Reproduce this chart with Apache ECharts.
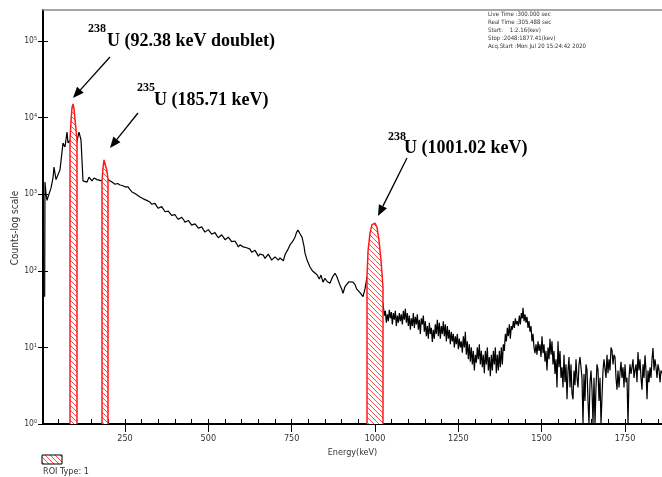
<!DOCTYPE html>
<html><head><meta charset="utf-8">
<script src="https://cdn.jsdelivr.net/npm/echarts@6/dist/echarts.min.js"></script>
<style>html,body{margin:0;padding:0;background:#fff}#c{width:662px;height:477px}</style>
</head><body><div id="c"></div>
<script>
// ---- data (energy keV, counts) ----
const spectrum = [
[9,46],[10,1440],[13,1000],[16,830],[19,920],[28,1200],[34,1630],[37,2260],[43,1550],[49,1630],[55,2090],[61,3550],[64,4660],[70,4130],[76,6460],[79,4660],[85,5100],[88,4000],[100,3500],[106,5000],
[112,6460],[118,5100],[124,1490],[130,1500],[136,1440],[142,1670],[151,1490],[157,1630],[166,1550],[172,1630],[181,1490],[190,1500],[199,1550],
[205,1500],[211,1440],[220,1350],[228,1380],[235,1320],[242,1300],[250,1250],[259,1250],[265,1150],[271,1070],[280,1020],[286,980],[295,920],
[300,950],[305,870],[310,820],[315,830],[320,850],[325,790],[330,740],[335,740],[340,760],[345,700],[350,655],[355,660],[360,690],[365,640],[370,590],[375,590],[380,600],[385,565],[390,530],[395,545],[400,540],[405,500],[410,470],[415,490],[420,500],[425,470],[430,430],[435,440],[440,455],[445,430],[450,395],[455,400],[460,410],[465,385],[470,360],[475,370],[480,375],[485,345],[490,320],[495,330],[500,345],[505,322],[510,300],[515,310],[520,315],[525,290],[530,270],[535,285],[540,295],[545,275],[550,255],[555,262],[560,275],[565,268],[570,240],[575,245],[580,245],[585,225],[590,205],[595,218],[600,225],[605,205],[610,195],[615,200],[620,205],[625,192],[630,175],[635,178],[640,185],[645,170],[650,155],[655,166],[660,170],[665,160],[670,145],[675,150],[680,165],[685,162],[690,138],[695,140],[700,152],[705,155],[710,138],[715,147],[720,150],[725,135],[730,162],[740,195],[745,218],[755,250],[760,275],[765,320],[769,340],[775,305],[781,275],[787,210],[790,170],[797,135],[805,112],[812,100],[818,95],[826,89],[833,78],[838,88],[844,71],[850,80],[857,72],[865,69],[872,82],[880,93],[885,85],[889,81],[895,65],[900,58],[904,51],[910,62],[916,61],[922,72],[928,68],[934,71],[940,66],[945,58],[949,61],[955,52],[960,49],[964,46],[970,58],[973,61],[976,83],
[1024,38],[1028,26],[1031,30],[1034,21],[1037,27],[1040,22],[1043,31],[1046,24],[1049,29],[1052,20],[1055,28],[1058,23],[1061,30],[1064,19],[1067,26],[1070,21],[1073,28],[1076,22],[1079,27],[1082,20],[1085,30],[1088,23],[1091,32],[1094,21],[1097,28],[1100,19],
[1103,26],[1106,17],[1109,24],[1112,19],[1115,28],[1118,18],[1121,25],[1124,20],[1127,27],[1130,17],[1133,23],[1136,15],[1139,24],[1142,20],[1145,26],[1148,16],[1151,22],[1154,14],[1157,19],[1160,13],[1163,21],[1166,15],[1169,18],[1172,11.8],[1175,17],[1178,13],[1181,20],[1184,15],[1187,23],[1190,14],[1193,21],[1196,13],[1199,19],
[1202,15],[1205,22],[1208,14],[1211,20],[1214,12],[1217,19],[1220,13],[1223,17],[1226,11],[1229,16],[1232,12],[1235,15],[1238,10],[1241,14],[1244,11],[1247,15],[1250,9.5],[1253,13],[1256,10],[1259,12],[1262,8.5],[1265,14],[1268,10],[1271,16],[1274,8],[1277,12],[1280,7],[1283,11],[1286,6.5],[1289,10],[1292,6],[1295,9],[1298,5],
[1301,8],[1304,6.3],[1307,10],[1310,7],[1313,11],[1316,6],[1319,9],[1322,5.5],[1325,8],[1328,4.6],[1331,9],[1334,6],[1337,10],[1340,5],[1343,7.5],[1346,4.2],[1349,8],[1352,5],[1355,9],[1358,6],[1361,10],[1364,4.6],[1367,8],[1370,5],[1373,9],[1376,5.5],[1379,10],[1382,6],[1385,11],[1388,9],[1391,15],[1394,12],[1397,18],
[1400,14],[1403,20],[1406,13],[1409,19],[1412,17],[1415,22],[1418,18],[1421,24],[1424,20],[1427,22],[1430,19],[1433,26],[1436,20],[1439,28],[1442,24],[1444,33],[1447,22],[1450,27],[1453,21],[1456,25],[1459,18],[1462,22],[1465,16],[1468,19],[1471,12],[1474,15],[1477,10],[1480,8.4],[1483,11],[1486,8],[1489,12],[1492,9],[1495,11],[1498,7.5],
[1501,14],[1504,8.4],[1507,11],[1510,6.5],[1513,9],[1516,5],[1519,10],[1522,7],[1525,13],[1528,8],[1531,12],[1534,6],[1537,9],[1540,4.5],[1543,7],[1546,3],[1549,12],[1552,5.5],[1555,9],[1558,4],[1561,5.5],[1564,3],[1567,8],[1570,3.5],[1573,6],[1576,2.1],[1579,5],[1582,7.5],[1585,3],[1588,6],[1591,2.5],[1594,2.1],[1597,5],
[1600,3.2],[1603,7],[1606,4],[1609,3],[1612,6],[1615,7.5],[1618,7.5],[1621,4],[1624,1],[1627,4.5],[1630,2],[1633,6],[1636,5.1],[1639,2],[1642,1],[1645,3.5],[1648,5],[1651,2.8],[1654,1],[1657,4],[1660,1],[1663,3],[1666,6],[1669,5.1],[1672,2],[1675,4],[1678,1],[1681,1],[1684,5],[1687,7],[1690,6.8],[1693,4],[1696,8],[1699,4.6],
[1702,7],[1705,5],[1708,10],[1711,9.2],[1714,6],[1717,8],[1720,7.5],[1723,4],[1726,2.8],[1729,5],[1732,3],[1735,4.6],[1738,6.5],[1741,4],[1744,5.5],[1747,3],[1750,6],[1753,3.5],[1756,4],[1759,1],[1762,4],[1765,6],[1768,4.5],[1771,5.5],[1774,7],[1777,4],[1780,5.1],[1783,6],[1786,3.5],[1789,8.7],[1792,5],[1795,7],[1798,4],
[1801,2.8],[1804,6],[1807,4],[1810,7.9],[1813,5],[1816,2.1],[1819,5],[1822,3.5],[1825,5.5],[1828,4],[1831,7],[1834,9.8],[1837,5],[1840,7],[1843,5.5],[1846,4],[1849,6],[1852,5.1],[1855,3.5],[1858,5],[1861,4.6]
];
const roi92 = [[85,1],[85,5100],[88,9000],[91,13500],[94,15100],[97,13000],[100,9500],[103,7000],[106,5000],[106,1]];
const roi186 = [[181,1],[181,1500],[184,2200],[187,2800],[190,2960],[193,2700],[196,2000],[199,1550],[199,1]];
const roi1001 = [[976,1],[976,83],[979,180],[985,310],[991,400],[1000,420],[1006,370],[1012,250],[1018,138],[1024,61],[1024,1]];

const energyLabels = [250,500,750,1000,1250,1500,1750];
const countTicks = [1,10,100,1000,10000,100000];
const infoLines = ['Live Time :300.000 sec','Real Time :305.488 sec','Start:    1:2.16(kev)','Stop :2048:1877.41(kev)','Acq.Start :Mon Jul 20 15:24:42 2020'];
const peakLabels = [
  {iso:'238', text:'U (92.38 keV doublet)'},
  {iso:'235', text:'U (185.71 keV)'},
  {iso:'238', text:'U (1001.02 keV)'}
];
const yAxisTitle = 'Counts-log scale';

// ---- presentation ----
const minorEnergyTicks = [];
for (let e = 50; e <= 1850; e += 50) minorEnergyTicks.push(e);
const sup = {0:'\u2070',1:'\u00b9',2:'\u00b2',3:'\u00b3',4:'\u2074',5:'\u2075'};
const condensed = '"DejaVu Sans Condensed","Liberation Sans Narrow","DejaVu Sans",sans-serif';

function hatch() {
  const s = 5, c = document.createElement('canvas');
  c.width = s; c.height = s;
  const g = c.getContext('2d');
  g.fillStyle = '#fff'; g.fillRect(0,0,s,s);
  g.strokeStyle = '#ff5050'; g.lineWidth = 1;
  g.beginPath();
  for (const o of [-s,0,s]) { g.moveTo(o,0); g.lineTo(o+s,s); }
  g.stroke();
  return {image: c, repeat: 'repeat'};
}
const pattern = hatch();

function arrow(sx, sy, tx, ty) {
  const dx = tx-sx, dy = ty-sy, L = Math.hypot(dx,dy);
  const ux = dx/L, uy = dy/L, hl = 11, hw = 4.5;
  const bx = tx-ux*hl, by = ty-uy*hl;
  return [
    {type:'line', shape:{x1:sx,y1:sy,x2:bx,y2:by}, style:{stroke:'#000', lineWidth:1.3}},
    {type:'polygon', shape:{points:[[tx,ty],[bx-uy*hw,by+ux*hw],[bx+uy*hw,by-ux*hw]]}, style:{fill:'#000'}}
  ];
}
const serif = '"Liberation Serif","Times New Roman",serif';
const labelPos = [[88,29,107,41],[137,88,154,100],[388,137,404,148]];
const graphics = [];
peakLabels.forEach((p,i) => {
  const q = labelPos[i];
  graphics.push({type:'text', style:{text:p.iso, x:q[0], y:q[1], font:'bold 12px '+serif, fill:'#000', align:'left', verticalAlign:'middle'}});
  graphics.push({type:'text', style:{text:p.text, x:q[2], y:q[3], font:'bold 18px '+serif, fill:'#000', align:'left', verticalAlign:'middle'}});
});
graphics.push(...arrow(110,57,73,98), ...arrow(138,113,110,148), ...arrow(407,158,378,216));
graphics.push({type:'text', style:{text:infoLines.join('\n'), x:488, y:11, font:'6px '+condensed, lineHeight:7.8, fill:'#333', align:'left', verticalAlign:'top'}});
graphics.push({type:'rect', shape:{x:42,y:455,width:20,height:9}, style:{fill:pattern, stroke:'#000', lineWidth:1}});
graphics.push({type:'text', style:{text:'ROI Type: 1', x:43, y:472, font:'9px '+condensed, fill:'#333', align:'left', verticalAlign:'middle'}});
graphics.push({type:'text', x:15, y:228, rotation:Math.PI/2, style:{text:yAxisTitle, x:0, y:0, font:'10px '+condensed, fill:'#333', align:'center', verticalAlign:'middle'}});

const xBase = {type:'value', min:4, max:1861, splitLine:{show:false}, gridIndex:0};
const yBase = {type:'log', logBase:10, min:1, max:Math.pow(10,5.405), splitLine:{show:false}};

const chart = echarts.init(document.getElementById('c'), null, {renderer:'canvas'});
chart.setOption({
  animation:false,
  backgroundColor:'#fff',
  grid:{left:43, right:0, top:10, bottom:53, containLabel:false, outerBoundsMode:'none'},
  xAxis:[
    Object.assign({}, xBase, {position:'bottom', axisLine:{show:true, onZero:false, lineStyle:{color:'#000', width:2}},
      axisTick:{show:true, inside:true, length:5, customValues:minorEnergyTicks, lineStyle:{color:'#000', width:1}},
      axisLabel:{show:false}}),
    Object.assign({}, xBase, {position:'bottom', axisLine:{show:false},
      axisTick:{show:true, inside:false, length:8, customValues:energyLabels, lineStyle:{color:'#000', width:1}},
      axisLabel:{show:true, customValues:energyLabels, margin:10, color:'#333', fontSize:9, fontFamily:condensed, formatter: v => String(v)},
      name:'Energy(keV)', nameLocation:'middle', nameGap:18, nameTextStyle:{color:'#333', fontSize:9, fontFamily:condensed}}),
    Object.assign({}, xBase, {position:'top', axisLine:{show:true, onZero:false, lineStyle:{color:'#8a8a8a', width:1.5}},
      axisTick:{show:false}, axisLabel:{show:false}})
  ],
  yAxis:[
    Object.assign({}, yBase, {position:'left', axisLine:{show:true, onZero:false, lineStyle:{color:'#000', width:2}},
      axisTick:{show:true, inside:false, length:5, customValues:countTicks, lineStyle:{color:'#000', width:1}},
      axisLabel:{show:true, customValues:countTicks, margin:6, color:'#333', fontSize:8.5, fontFamily:condensed,
        formatter: v => '10' + sup[Math.round(Math.log10(v))]}}),
    Object.assign({}, yBase, {position:'left', axisLine:{show:false},
      axisTick:{show:true, inside:true, length:5, customValues:countTicks, lineStyle:{color:'#000', width:1}},
      axisLabel:{show:false}})
  ],
  series:[
    {type:'line', name:'spectrum', xAxisIndex:0, yAxisIndex:0, data:spectrum, showSymbol:false, symbol:'none',
     lineStyle:{color:'#000', width:1.2}, z:2},
    ...[roi92, roi186, roi1001].map(d => ({type:'line', name:'ROI Type: 1', xAxisIndex:0, yAxisIndex:0, data:d,
      showSymbol:false, symbol:'none', lineStyle:{color:'#ff1a1a', width:1.5},
      areaStyle:{color:pattern, opacity:1, origin:'start'}, z:3}))
  ],
  graphic: graphics
});
</script>
</body></html>
